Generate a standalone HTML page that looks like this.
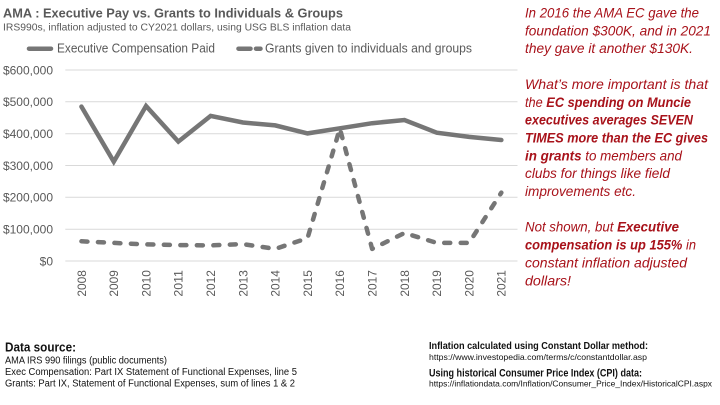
<!DOCTYPE html>
<html>
<head>
<meta charset="utf-8">
<style>
  html,body{margin:0;padding:0;background:#fff;}
  svg{display:block;}
  text{font-family:"Liberation Sans", Arial, sans-serif;}
</style>
</head>
<body>
<svg width="720" height="405" viewBox="0 0 720 405" xmlns="http://www.w3.org/2000/svg">
  <rect width="720" height="405" fill="#fff"/>

  <!-- Title -->
  <text x="3" y="17.3" font-size="13" font-weight="bold" fill="#595959" textLength="340" lengthAdjust="spacingAndGlyphs">AMA : Executive Pay vs. Grants to Individuals &amp; Groups</text>
  <text x="3" y="30.7" font-size="10" fill="#595959" textLength="348" lengthAdjust="spacingAndGlyphs">IRS990s, inflation adjusted to CY2021 dollars, using USG BLS inflation data</text>

  <!-- Legend -->
  <line x1="29" y1="48.7" x2="51" y2="48.7" stroke="#767676" stroke-width="4.5" stroke-linecap="round"/>
  <text x="57" y="52.6" font-size="13" fill="#595959" textLength="158" lengthAdjust="spacingAndGlyphs">Executive Compensation Paid</text>
  <line x1="238.5" y1="48.7" x2="250.5" y2="48.7" stroke="#767676" stroke-width="4.5" stroke-linecap="round"/>
  <line x1="256" y1="48.7" x2="260.5" y2="48.7" stroke="#767676" stroke-width="4.5" stroke-linecap="round"/>
  <text x="265" y="52.6" font-size="13" fill="#595959" textLength="207" lengthAdjust="spacingAndGlyphs">Grants given to individuals and groups</text>

  <!-- Gridlines -->
  <g stroke="#d9d9d9" stroke-width="1">
    <line x1="65.3" y1="70" x2="517.5" y2="70"/>
    <line x1="65.3" y1="101.8" x2="517.5" y2="101.8"/>
    <line x1="65.3" y1="133.7" x2="517.5" y2="133.7"/>
    <line x1="65.3" y1="165.5" x2="517.5" y2="165.5"/>
    <line x1="65.3" y1="197.3" x2="517.5" y2="197.3"/>
    <line x1="65.3" y1="229.2" x2="517.5" y2="229.2"/>
    <line x1="65.3" y1="261" x2="517.5" y2="261"/>
  </g>

  <!-- Y labels -->
  <g font-size="12" fill="#595959" text-anchor="end">
    <text x="53" y="74.3">$600,000</text>
    <text x="53" y="106.1">$500,000</text>
    <text x="53" y="138">$400,000</text>
    <text x="53" y="169.8">$300,000</text>
    <text x="53" y="201.6">$200,000</text>
    <text x="53" y="233.5">$100,000</text>
    <text x="53" y="265.3">$0</text>
  </g>

  <!-- X labels -->
  <g font-size="12" fill="#595959">
    <text transform="translate(85.8,296.6) rotate(-90)" textLength="26.5" lengthAdjust="spacingAndGlyphs">2008</text>
    <text transform="translate(118.1,296.6) rotate(-90)" textLength="26.5" lengthAdjust="spacingAndGlyphs">2009</text>
    <text transform="translate(150.4,296.6) rotate(-90)" textLength="26.5" lengthAdjust="spacingAndGlyphs">2010</text>
    <text transform="translate(182.7,296.6) rotate(-90)" textLength="26.5" lengthAdjust="spacingAndGlyphs">2011</text>
    <text transform="translate(215,296.6) rotate(-90)" textLength="26.5" lengthAdjust="spacingAndGlyphs">2012</text>
    <text transform="translate(247.3,296.6) rotate(-90)" textLength="26.5" lengthAdjust="spacingAndGlyphs">2013</text>
    <text transform="translate(279.6,296.6) rotate(-90)" textLength="26.5" lengthAdjust="spacingAndGlyphs">2014</text>
    <text transform="translate(311.9,296.6) rotate(-90)" textLength="26.5" lengthAdjust="spacingAndGlyphs">2015</text>
    <text transform="translate(344.2,296.6) rotate(-90)" textLength="26.5" lengthAdjust="spacingAndGlyphs">2016</text>
    <text transform="translate(376.5,296.6) rotate(-90)" textLength="26.5" lengthAdjust="spacingAndGlyphs">2017</text>
    <text transform="translate(408.8,296.6) rotate(-90)" textLength="26.5" lengthAdjust="spacingAndGlyphs">2018</text>
    <text transform="translate(441.1,296.6) rotate(-90)" textLength="26.5" lengthAdjust="spacingAndGlyphs">2019</text>
    <text transform="translate(473.4,296.6) rotate(-90)" textLength="26.5" lengthAdjust="spacingAndGlyphs">2020</text>
    <text transform="translate(505.7,296.6) rotate(-90)" textLength="26.5" lengthAdjust="spacingAndGlyphs">2021</text>
  </g>

  <!-- Grants series (dashed) -->
  <polyline fill="none" stroke="#767676" stroke-width="4.5" stroke-linecap="round" stroke-linejoin="round" stroke-dasharray="6,10.5"
    points="81.45,241.3 113.75,242.9 146.05,244.4 178.35,245.1 210.65,245.4 242.95,244.1 275.25,248.9 307.55,238.1 339.85,128.5 372.15,248.9 404.45,233 436.75,242.9 469.05,242.9 501.35,192.6"/>

  <!-- Exec comp series (solid) -->
  <polyline fill="none" stroke="#767676" stroke-width="4.5" stroke-linecap="round" stroke-linejoin="miter"
    points="81.45,106.6 113.75,161.7 146.05,106 178.35,141.6 210.65,115.9 242.95,122.5 275.25,125.4 307.55,133.4 339.85,128.3 372.15,123.2 404.45,120 436.75,132.7 469.05,136.9 501.35,140"/>

  <!-- Right annotation -->
  <g font-size="14" font-style="italic" fill="#a8121a">
    <text x="525" y="17.5" textLength="174" lengthAdjust="spacingAndGlyphs">In 2016 the AMA EC gave the</text>
    <text x="525" y="35.35" textLength="186" lengthAdjust="spacingAndGlyphs">foundation $300K, and in 2021</text>
    <text x="525" y="53.2" textLength="168" lengthAdjust="spacingAndGlyphs">they gave it another $130K.</text>

    <text x="525" y="88.9" textLength="183" lengthAdjust="spacingAndGlyphs">What’s more important is that</text>
    <text x="525" y="106.75" textLength="166" lengthAdjust="spacingAndGlyphs">the <tspan font-weight="bold">EC spending on Muncie</tspan></text>
    <text x="525" y="124.6" font-weight="bold" textLength="168" lengthAdjust="spacingAndGlyphs">executives averages SEVEN</text>
    <text x="525" y="142.45" font-weight="bold" textLength="183" lengthAdjust="spacingAndGlyphs">TIMES more than the EC gives</text>
    <text x="525" y="160.3" textLength="157" lengthAdjust="spacingAndGlyphs"><tspan font-weight="bold">in grants</tspan> to members and</text>
    <text x="525" y="178.15" textLength="145" lengthAdjust="spacingAndGlyphs">clubs for things like field</text>
    <text x="525" y="196" textLength="111" lengthAdjust="spacingAndGlyphs">improvements etc.</text>

    <text x="525" y="231.7" textLength="154" lengthAdjust="spacingAndGlyphs">Not shown, but <tspan font-weight="bold">Executive</tspan></text>
    <text x="525" y="249.55" textLength="171" lengthAdjust="spacingAndGlyphs"><tspan font-weight="bold">compensation is up 155%</tspan> in</text>
    <text x="525" y="267.4" textLength="162" lengthAdjust="spacingAndGlyphs">constant inflation adjusted</text>
    <text x="525" y="285.25" textLength="46" lengthAdjust="spacingAndGlyphs">dollars!</text>
  </g>

  <!-- Bottom left -->
  <g fill="#111">
    <text x="5" y="351.7" font-size="12.5" font-weight="bold" textLength="71" lengthAdjust="spacingAndGlyphs">Data source:</text>
    <text x="5" y="363.3" font-size="10" textLength="162" lengthAdjust="spacingAndGlyphs">AMA IRS 990 filings (public documents)</text>
    <text x="5" y="375" font-size="10" textLength="292" lengthAdjust="spacingAndGlyphs">Exec Compensation: Part IX Statement of Functional Expenses, line 5</text>
    <text x="5" y="386.7" font-size="10" textLength="290" lengthAdjust="spacingAndGlyphs">Grants: Part IX, Statement of Functional Expenses, sum of lines 1 &amp; 2</text>
  </g>

  <!-- Bottom right -->
  <g fill="#111">
    <text x="429" y="349" font-size="10.5" font-weight="bold" textLength="219" lengthAdjust="spacingAndGlyphs">Inflation calculated using Constant Dollar method:</text>
    <text x="429" y="360" font-size="8.3" textLength="218" lengthAdjust="spacingAndGlyphs">https://www.investopedia.com/terms/c/constantdollar.asp</text>
    <text x="429" y="376.7" font-size="11.2" font-weight="bold" textLength="213" lengthAdjust="spacingAndGlyphs">Using historical Consumer Price Index (CPI) data:</text>
    <text x="429" y="386.7" font-size="8.3" textLength="283" lengthAdjust="spacingAndGlyphs">https://inflationdata.com/Inflation/Consumer_Price_Index/HistoricalCPI.aspx</text>
  </g>
</svg>
</body>
</html>
